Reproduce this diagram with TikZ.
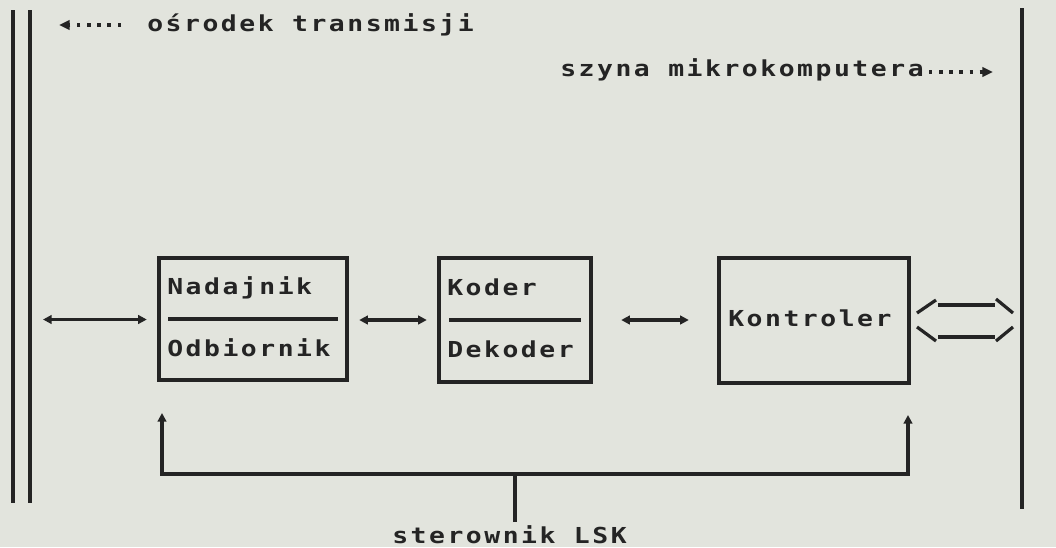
\documentclass[tikz,border=0pt]{standalone}
\usepackage{fontspec}
\usetikzlibrary{arrows.meta}
\newfontfamily\dm[LetterSpace=11.5,FakeStretch=1.2]{DejaVu Sans Mono}
\definecolor{bgc}{RGB}{226,228,221}
\definecolor{inkc}{RGB}{36,36,36}
\begin{document}
\begin{tikzpicture}[x=0.75pt,y=-0.75pt,
  ink/.style={draw=inkc, line width=2.3pt},
  bar/.style={draw=inkc, line width=3pt},
  box/.style={ink, rectangle, inner sep=0pt},
  lbl/.style={text=inkc, inner sep=0pt, anchor=base west, font=\dm\bfseries\fontsize{16.5}{18}\selectfont},
  conn/.style={draw=inkc, line width=2.4pt, {Triangle[length=6.5pt,width=6.5pt]}-{Triangle[length=6.5pt,width=6.5pt]}},
  upconn/.style={draw=inkc, line width=2.4pt, -{Triangle[length=6.5pt,width=6.5pt]}},
  dotarrow/.style={draw=inkc, line width=2.8pt, dash pattern=on 2.6pt off 5pt, -{Triangle[length=8pt,width=7pt]}},
]
\fill[bgc] (0,0) rectangle (1056,547);
\useasboundingbox (0,0) rectangle (1056,547);

% vertical bus lines
\coordinate (l1t) at (12.5,10);  \coordinate (l1b) at (12.5,503);
\coordinate (l2t) at (29.5,10);  \coordinate (l2b) at (29.5,503);
\coordinate (rt) at (1022,8);    \coordinate (rb) at (1022,509);
\draw[bar] (l1t) -- (l1b);
\draw[bar] (l2t) -- (l2b);
\draw[bar] (rt) -- (rb);

% top labels
\node[lbl] (osr) at (147,31) {ośrodek transmisji};
\coordinate (osrtail) at (121,25);
\coordinate (osrtip) at (59,25);
\draw[dotarrow] (osrtail) -- (osrtip);

\node[lbl] (szy) at (560,76) {szyna mikrokomputera};
\coordinate (szytail) at (929,72);
\coordinate (szytip) at (993,72);
\draw[dotarrow] (szytail) -- (szytip);

% boxes
\node[box, minimum width=141pt, minimum height=91.5pt] (nad) at (253,319) {};
\node[box, minimum width=114pt, minimum height=93pt] (kod) at (515,320) {};
\node[box, minimum width=142.5pt, minimum height=93.75pt] (kon) at (814,320.5) {};

\node[lbl] (nadt) at (167,294) {Nadajnik};
\node[lbl] (nadb) at (167,356) {Odbiornik};
\draw[ink] (168,319) -- (338,319);

\node[lbl] (kodt) at (447,295) {Koder};
\node[lbl] (kodb) at (447,357) {Dekoder};
\draw[ink] (449,320) -- (581,320);

\node[lbl] (kont) at (728,326) {Kontroler};

% horizontal connectors
\coordinate (lin) at (43,319.5);
\draw[conn, shorten >=8pt] (lin) -- (lin -| nad.west);
\draw[conn, shorten <=8pt, shorten >=8pt] (nad.east |- 0,320) -- (kod.west |- 0,320);
\draw[conn, shorten <=21.5pt, shorten >=21.5pt] (kod.east |- 0,320) -- (kon.west |- 0,320);

% bus symbol between Kontroler and microcomputer bus
\draw[ink, line width=2.4pt] (917,313) -- (936,300);
\draw[ink, line width=2.4pt] (938,305) -- (995,305);
\draw[ink, line width=2.4pt] (996,299) -- (1013,313);
\draw[ink, line width=2.4pt] (917,327) -- (936,341);
\draw[ink, line width=2.4pt] (938,337) -- (995,337);
\draw[ink, line width=2.4pt] (996,341) -- (1013,327);

% control feedback
\node[lbl] (lsk) at (392,543) {sterownik LSK};
\coordinate (stemb) at (515,522);
\coordinate (junc) at (515,474);
\coordinate (fbl) at (162,413);
\coordinate (fbr) at (908,415);
\draw[ink, line width=2.4pt] (stemb) -- (junc);
\draw[upconn] (junc) -| (fbl);
\draw[upconn] (junc) -| (fbr);
\end{tikzpicture}
\end{document}
